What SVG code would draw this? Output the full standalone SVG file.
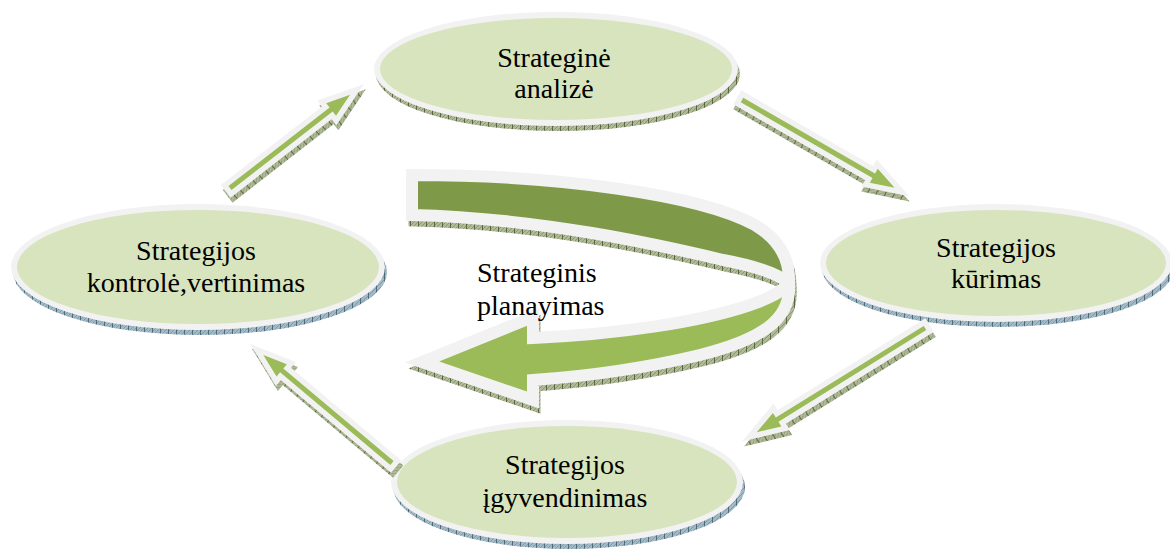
<svg xmlns="http://www.w3.org/2000/svg" width="1170" height="551" viewBox="0 0 1170 551">
  <defs>
    <pattern id="hatchB" width="8" height="4" patternUnits="userSpaceOnUse">
      <rect width="8" height="4" fill="#a3bac6"/>
      <path d="M0,4L4,0M4,4L8,0" stroke="#6f909e" stroke-width="0.7"/>
      <path d="M0.5,0V4" stroke="#4a6c7c" stroke-width="1"/>
    </pattern>
    <pattern id="hatchG" width="8" height="4" patternUnits="userSpaceOnUse">
      <rect width="8" height="4" fill="#b0ba98"/>
      <path d="M0,4L4,0M4,4L8,0" stroke="#7a8a60" stroke-width="0.7"/>
      <path d="M0.5,0V4" stroke="#58683e" stroke-width="1"/>
    </pattern>
  </defs>
  <style>
    .rim { fill: #f2f2f2; }
    .face { fill: #d7e4bd; }
    .shB { fill: url(#hatchB); }
    .shG { fill: url(#hatchG); }
    .lbl { font-family: "Liberation Serif", "Times New Roman", serif; font-size: 28px; fill: #000; text-anchor: middle; }
    .lblL { font-family: "Liberation Serif", "Times New Roman", serif; font-size: 28px; fill: #000; }
    .ashadow { fill: url(#hatchG); stroke: url(#hatchG); stroke-width: 11; stroke-linejoin: miter; stroke-miterlimit: 6; }
    .awhite { fill: #f2f2f2; stroke: #f2f2f2; stroke-width: 11; stroke-linejoin: miter; stroke-miterlimit: 6; }
    .agreen { fill: #9bbb59; }
  </style>

  <!-- big curved arrow -->
  <g id="cycle">
    <g transform="translate(2,6)">
      <path class="ashadow" stroke-width="12" d="M412,175 C560,175 700,195 755,225 C780,240 790,260 789,283 C775,272 750,265 723,260 C660,245 540,218 412,215 Z"/>
      <path class="ashadow" stroke-width="12" d="M789,283 C792,320 760,340 700,355 C650,367 590,376 533,380 L533,400 L422,362 L533,317 L533,338 C620,334 700,322 750,305 C770,298 782,292 789,283 Z"/>
    </g>
    <path fill="#7e9a48" stroke="#f2f2f2" stroke-width="12" stroke-linejoin="miter" d="M412,175 C560,175 700,195 755,225 C780,240 790,260 789,283 C775,272 750,265 723,260 C660,245 540,218 412,215 Z"/>
    <path fill="#9bbb59" stroke="#f2f2f2" stroke-width="12" stroke-linejoin="miter" stroke-miterlimit="6" d="M789,283 C792,320 760,340 700,355 C650,367 590,376 533,380 L533,400 L422,362 L533,317 L533,338 C620,334 700,322 750,305 C770,298 782,292 789,283 Z"/>
    <text class="lblL" x="477" y="282">Strateginis</text>
    <text class="lblL" x="477" y="315">planayimas</text>
  </g>

  <!-- nodes -->
  <g id="node-analize">
    <ellipse class="shG" cx="558" cy="74" rx="182" ry="57"/>
    <ellipse class="rim" cx="556" cy="69" rx="182" ry="57"/>
    <ellipse class="face" cx="556" cy="69" rx="176" ry="51"/>
    <text class="lbl" x="554" y="67">Strateginė</text>
    <text class="lbl" x="554" y="98">analizė</text>
  </g>
  <g id="node-kurimas">
    <ellipse class="shB" cx="998" cy="268" rx="176" ry="59"/>
    <ellipse class="rim" cx="996" cy="263" rx="176" ry="59"/>
    <ellipse class="face" cx="996" cy="263" rx="170" ry="53"/>
    <text class="lbl" x="996" y="257">Strategijos</text>
    <text class="lbl" x="996" y="288">kūrimas</text>
  </g>
  <g id="node-igyvendinimas">
    <ellipse class="shB" cx="569" cy="487" rx="176" ry="62"/>
    <ellipse class="rim" cx="567" cy="482" rx="176" ry="62"/>
    <ellipse class="face" cx="567" cy="482" rx="170" ry="56"/>
    <text class="lbl" x="565" y="474">Strategijos</text>
    <text class="lbl" x="565" y="507">įgyvendinimas</text>
  </g>
  <g id="node-kontrole">
    <ellipse class="shB" cx="200" cy="272" rx="187" ry="63"/>
    <ellipse class="rim" cx="198" cy="267" rx="187" ry="63"/>
    <ellipse class="face" cx="198" cy="267" rx="181" ry="57"/>
    <text class="lbl" x="196" y="260">Strategijos</text>
    <text class="lbl" x="196" y="292">kontrolė,vertinimas</text>
  </g>

  <!-- connectors -->
  <g id="connectors">
    <!-- kontrole -> analize -->
    <g transform="translate(232,193) rotate(-37.8)">
      <polygon class="ashadow" points="0,-2.5 128,-2.5 128,-8 152,0 128,8 128,2.5 0,2.5"/>
    </g>
    <g transform="translate(230,188) rotate(-37.8)">
      <polygon class="awhite" points="0,-2.5 128,-2.5 128,-8 152,0 128,8 128,2.5 0,2.5"/>
      <polygon class="agreen" points="0,-2.5 128,-2.5 128,-8 152,0 128,8 128,2.5 0,2.5"/>
    </g>
    <!-- analize -> kurimas -->
    <g transform="translate(742,105) rotate(29.9)">
      <polygon class="ashadow" points="0,-2.5 152,-2.5 152,-8 176,0 152,8 152,2.5 0,2.5"/>
    </g>
    <g transform="translate(742,100) rotate(29.9)">
      <polygon class="awhite" points="0,-2.5 152,-2.5 152,-8 176,0 152,8 152,2.5 0,2.5"/>
      <polygon class="agreen" points="0,-2.5 152,-2.5 152,-8 176,0 152,8 152,2.5 0,2.5"/>
    </g>
    <!-- kurimas -> igyvendinimas -->
    <g transform="translate(927,333) rotate(148.2)">
      <polygon class="ashadow" points="0,-2.5 174,-2.5 174,-8 198,0 174,8 174,2.5 0,2.5"/>
    </g>
    <g transform="translate(925,328) rotate(148.2)">
      <polygon class="awhite" points="0,-2.5 174,-2.5 174,-8 198,0 174,8 174,2.5 0,2.5"/>
      <polygon class="agreen" points="0,-2.5 174,-2.5 174,-8 198,0 174,8 174,2.5 0,2.5"/>
    </g>
    <!-- igyvendinimas -> kontrole -->
    <g transform="translate(394,468) rotate(-140)">
      <polygon class="ashadow" points="0,-2.5 144,-2.5 144,-8 168,0 144,8 144,2.5 0,2.5"/>
    </g>
    <g transform="translate(392,463) rotate(-140)">
      <polygon class="awhite" points="0,-2.5 144,-2.5 144,-8 168,0 144,8 144,2.5 0,2.5"/>
      <polygon class="agreen" points="0,-2.5 144,-2.5 144,-8 168,0 144,8 144,2.5 0,2.5"/>
    </g>
  </g>
</svg>
